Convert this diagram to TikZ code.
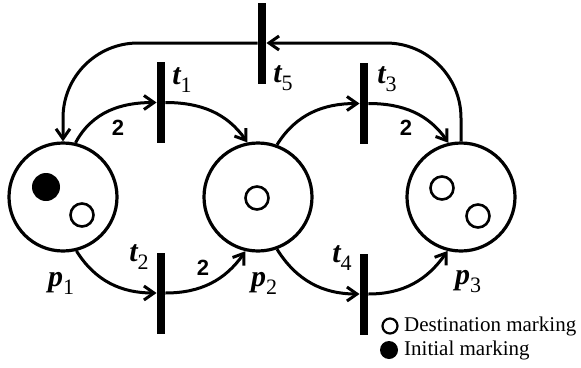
\documentclass[tikz,border=0pt]{standalone}
\usepackage{fontspec}
\setmainfont{Liberation Serif}
\newfontfamily\arialfont{Liberation Sans}
\usetikzlibrary{arrows.meta}
\newcommand{\lbl}[2]{{\fontsize{30}{30}\selectfont\bfseries\itshape #1}\raisebox{-8pt}{\fontsize{22}{22}\selectfont #2}}
\begin{document}
\begin{tikzpicture}[x=1pt,y=-1pt,
  place/.style={circle,draw,line width=3.2pt,minimum size=108pt,inner sep=0pt},
  trans/.style={rectangle,fill=black,draw=none,minimum width=8.5pt,minimum height=81pt,inner sep=0pt},
  tokw/.style={circle,draw,line width=2.6pt,minimum size=23pt,inner sep=0pt},
  tokb/.style={circle,fill=black,minimum size=28pt,inner sep=0pt},
  legw/.style={circle,draw,line width=2.2pt,minimum size=15pt,inner sep=0pt},
  legb/.style={circle,fill=black,minimum size=18pt,inner sep=0pt},
  arc/.style={line width=3pt,-{Straight Barb[length=10pt,width=14pt,line width=3pt]}},
  lab/.style={inner sep=0pt},
  wt/.style={inner sep=0pt,font=\arialfont\bfseries\fontsize{22}{22}\selectfont},
  legt/.style={inner sep=0pt,anchor=west,font=\fontsize{21}{21}\selectfont}
]
\useasboundingbox (0,0) rectangle (581,367);
% places
\node[place] (p1) at (63,197) {};
\node[place] (p2) at (258,197) {};
\node[place] (p3) at (461,197) {};
% tokens
\node[tokb] (k1) at (46,187) {};
\node[tokw] (k2) at (82,215) {};
\node[tokw] (k3) at (257,198) {};
\node[tokw] (k4) at (442,188) {};
\node[tokw] (k5) at (478,216) {};
% transitions
\node[trans] (t1) at (161,102.5) {};
\node[trans] (t2) at (161,293) {};
\node[trans] (t3) at (364,103.5) {};
\node[trans] (t4) at (364,294) {};
\node[trans] (t5) at (262,43) {};
% labels
\node[lab] (lt1) at (182,80) {\lbl{t}{1}};
\node[lab] (lt2) at (139,257) {\lbl{t}{2}};
\node[lab] (lt3) at (387,79) {\lbl{t}{3}};
\node[lab] (lt4) at (342,258) {\lbl{t}{4}};
\node[lab] (lt5) at (283,78) {\lbl{t}{5}};
\node[lab] (lp1) at (61,283) {\lbl{p}{1}};
\node[lab] (lp2) at (264,283) {\lbl{p}{2}};
\node[lab] (lp3) at (468,282) {\lbl{p}{3}};
% weights
\node[wt] (w1) at (118,128) {2};
\node[wt] (w2) at (203,268) {2};
\node[wt] (w3) at (406,128) {2};
% arcs
\draw[arc] (p1.77) to[out=62,in=180] (t1.west);
\draw[arc] (t1.east) to[out=0,in=125] (p2.101);
\draw[arc] (p2.70) to[out=58,in=180] (t3.west);
\draw[arc] (t3.east) to[out=0,in=125] (p3.103);
\draw[arc] (p1.-76) to[out=-58,in=180] (t2.west);
\draw[arc] (t2.east) to[out=0,in=235] (p2.-103);
\draw[arc] (p2.-70) to[out=-58,in=180] (t4.west);
\draw[arc] (t4.east) to[out=0,in=235] (p3.-104);
\draw[arc,rounded corners=75pt] (p3.90) |- (t5.east);
\draw[arc,rounded corners=75pt] (t5.west) -| (p1.north);
% legend
\node[legw] (lw) at (390,326) {};
\node[legb] (lb) at (389,350) {};
\node[legt] (lwt) at (404,326) {Destination marking};
\node[legt] (lbt) at (404,350) {Initial marking};
\end{tikzpicture}
\end{document}
